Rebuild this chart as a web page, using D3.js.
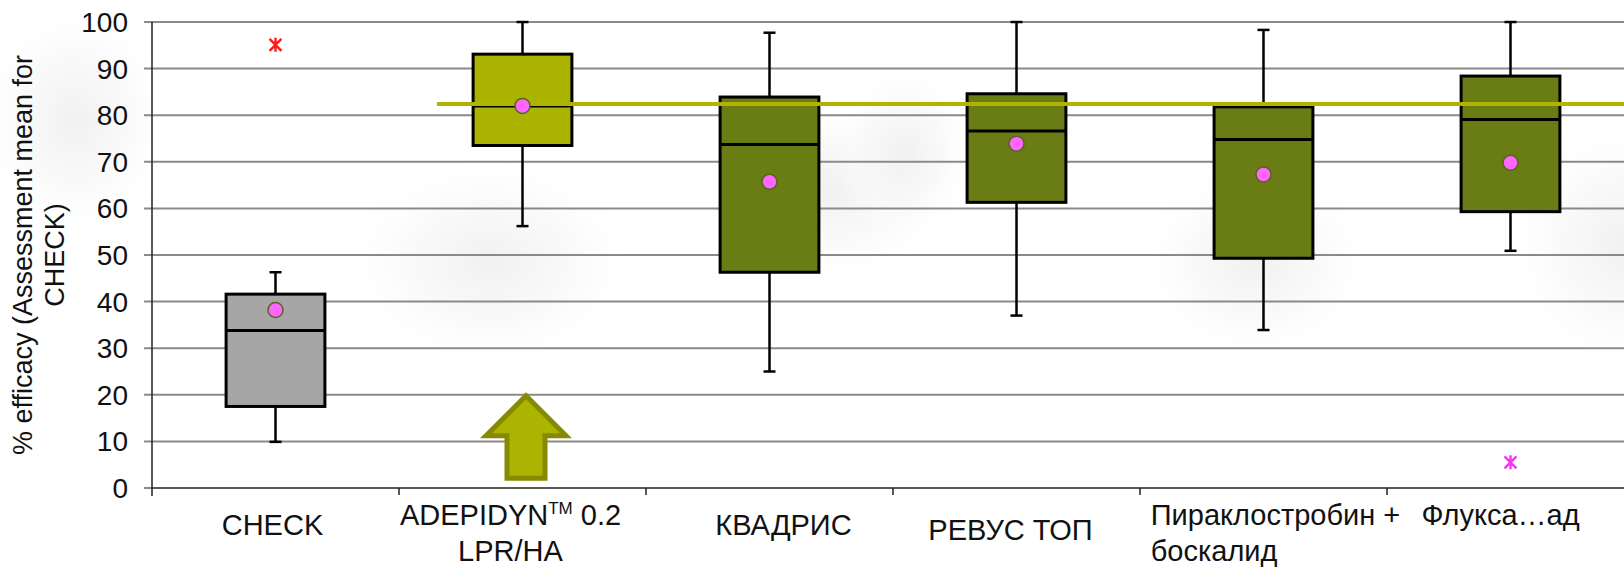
<!DOCTYPE html>
<html lang="ru">
<head>
<meta charset="UTF-8">
<title>Efficacy box plot</title>
<script src="https://d3js.org/d3.v7.min.js"></script>
<style>
    body { margin: 0; background: #fff; }
    svg { display: block; font-family: "Liberation Sans", Arial, sans-serif; }
    .grid line { stroke: #8a8a8a; stroke-width: 2px; }
    .tick-label { font-size: 28px; fill: #111; }
    .cat-label { font-size: 29px; fill: #111; }
    .y-title { font-size: 27px; fill: #111; }
</style>
</head>
<body>
<svg id="chart" width="1624" height="569"></svg>
<script>
    // values
    const categories = ["CHECK", "ADEPIDYN", "КВАДРИС", "РЕВУС ТОП", "Пираклостробин + боскалид", "Флукса…ад"];
    const whiskerLow  = [9.9, 56.2, 25.0, 37.0, 33.9, 50.9];
    const q1          = [17.5, 73.5, 46.3, 61.3, 49.3, 59.3];
    const medians     = [33.8, 82.0, 73.7, 76.6, 74.8, 79.1];
    const q3          = [41.6, 93.1, 83.9, 84.6, 81.8, 88.4];
    const whiskerHigh = [46.3, 100, 97.7, 100, 98.3, 100];
    const means       = [38.2, 82.0, 65.7, 73.9, 67.3, 69.8];
    const outlierCats   = ["CHECK", "Флукса…ад"];
    const outlierValues = [95.1, 5.5];
    const referenceLevel = 82.4;
    const yTickValues = [0, 10, 20, 30, 40, 50, 60, 70, 80, 90, 100];
    const yTitleLines = ["% efficacy (Assessment mean for", "CHECK)"];

    const W = 1624, H = 569;
    const svg = d3.select("#chart");

    const y = d3.scaleLinear().domain([0, 100]).range([488, 22]);
    const x = d3.scaleBand().domain(categories).range([152, 152 + 247 * 6]).padding(0);
    const bw = x.bandwidth();
    const cx = c => x(c) + bw / 2;

    const boxFill = d3.scaleOrdinal()
        .domain(categories)
        .range(["#a6a6a6", "#aab400", "#6a7c14", "#6a7c14", "#6a7c14", "#6a7c14"]);
    const outlierColor = d3.scaleOrdinal().domain(outlierCats).range(["#ff1a1a", "#ff2bff"]);

    // faint soft blobs in the background
    const defs = svg.append("defs");
    const grad = defs.append("radialGradient").attr("id", "blob");
    grad.append("stop").attr("offset", "0%").attr("stop-color", "#efefef").attr("stop-opacity", 0.9);
    grad.append("stop").attr("offset", "55%").attr("stop-color", "#f6f6f6").attr("stop-opacity", 0.6);
    grad.append("stop").attr("offset", "100%").attr("stop-color", "#ffffff").attr("stop-opacity", 0);
    const blobs = [[75, 120, 100, 120], [490, 262, 150, 110], [830, 190, 130, 95], [1255, 262, 120, 100], [1624, 245, 120, 130], [905, 150, 70, 90]];
    svg.append("g").selectAll("ellipse").data(blobs).enter().append("ellipse")
        .attr("cx", d => d[0]).attr("cy", d => d[1])
        .attr("rx", d => d[2]).attr("ry", d => d[3])
        .attr("fill", "url(#blob)");

    // gridlines (also the little left ticks)
    svg.append("g").attr("class", "grid")
        .selectAll("line")
        .data(yTickValues.filter(v => v > 0))
        .enter().append("line")
        .attr("x1", 144).attr("x2", W)
        .attr("y1", d => y(d)).attr("y2", d => y(d));

    svg.append("line").attr("x1", 144).attr("x2", 152)
        .attr("y1", y(0)).attr("y2", y(0)).attr("stroke", "#8a8a8a").attr("stroke-width", 2);

    // tick labels
    svg.append("g").selectAll("text")
        .data(yTickValues)
        .enter().append("text")
        .attr("class", "tick-label")
        .attr("x", 128).attr("y", d => y(d))
        .attr("dy", "0.36em")
        .attr("text-anchor", "end")
        .text(d => d);

    // axes
    svg.append("line").attr("x1", 152).attr("x2", 152).attr("y1", y(100)).attr("y2", 496)
        .attr("stroke", "#222").attr("stroke-width", 1.5);
    svg.append("line").attr("x1", 152).attr("x2", W).attr("y1", y(0)).attr("y2", y(0))
        .attr("stroke", "#222").attr("stroke-width", 1.5);
    svg.append("g").selectAll("line")
        .data(categories.slice(1))
        .enter().append("line")
        .attr("x1", d => x(d)).attr("x2", d => x(d))
        .attr("y1", y(0)).attr("y2", 495)
        .attr("stroke", "#222").attr("stroke-width", 1.5);

    // y title
    const yt = svg.append("text").attr("class", "y-title")
        .attr("transform", "translate(23,255) rotate(-90)")
        .attr("text-anchor", "middle");
    yt.selectAll("tspan").data(yTitleLines).enter().append("tspan")
        .attr("x", 0).attr("dy", (d, i) => i === 0 ? "0.35em" : "1.15em")
        .text(d => d);

    // boxes
    const boxW = bw * 0.4, capW = 12;
    const g = svg.append("g").selectAll("g")
        .data(categories)
        .enter().append("g");

    g.append("line")
        .attr("x1", d => cx(d)).attr("x2", d => cx(d))
        .attr("y1", (d, i) => y(whiskerHigh[i])).attr("y2", (d, i) => y(whiskerLow[i]))
        .attr("stroke", "#000").attr("stroke-width", 2.5);
    g.append("line")
        .attr("x1", d => cx(d) - capW / 2).attr("x2", d => cx(d) + capW / 2)
        .attr("y1", (d, i) => y(whiskerHigh[i])).attr("y2", (d, i) => y(whiskerHigh[i]))
        .attr("stroke", "#000").attr("stroke-width", 2.5);
    g.append("line")
        .attr("x1", d => cx(d) - capW / 2).attr("x2", d => cx(d) + capW / 2)
        .attr("y1", (d, i) => y(whiskerLow[i])).attr("y2", (d, i) => y(whiskerLow[i]))
        .attr("stroke", "#000").attr("stroke-width", 2.5);
    g.append("rect")
        .attr("x", d => cx(d) - boxW / 2).attr("width", boxW)
        .attr("y", (d, i) => y(q3[i]))
        .attr("height", (d, i) => y(q1[i]) - y(q3[i]))
        .attr("fill", d => boxFill(d))
        .attr("stroke", "#000").attr("stroke-width", 3);
    g.append("line")
        .attr("x1", d => cx(d) - boxW / 2).attr("x2", d => cx(d) + boxW / 2)
        .attr("y1", (d, i) => y(medians[i])).attr("y2", (d, i) => y(medians[i]))
        .attr("stroke", "#000").attr("stroke-width", 3);

    // reference line at ADEPIDYN level
    svg.append("line")
        .attr("x1", x(categories[1]) + 38).attr("x2", W)
        .attr("y1", y(referenceLevel)).attr("y2", y(referenceLevel))
        .attr("stroke", "#b0b400").attr("stroke-width", 4);

    // means
    svg.append("g").selectAll("circle")
        .data(categories)
        .enter().append("circle")
        .attr("cx", d => cx(d)).attr("cy", (d, i) => y(means[i]))
        .attr("r", 7.5)
        .attr("fill", "#ff66ff").attr("stroke", "#55661a").attr("stroke-width", 1.5);

    // outliers, drawn as a "ж"-like star
    const starType = {
        draw(ctx, size) {
            const r = Math.sqrt(size) / 2;
            ctx.moveTo(0, -r); ctx.lineTo(0, r);
            ctx.moveTo(-r * 0.85, -r * 0.85); ctx.lineTo(r * 0.85, r * 0.85);
            ctx.moveTo(-r * 0.85, r * 0.85); ctx.lineTo(r * 0.85, -r * 0.85);
        }
    };
    const star = d3.symbol().type(starType).size(196);
    svg.append("g").selectAll("path")
        .data(outlierCats)
        .enter().append("path")
        .attr("d", star)
        .attr("transform", (d, i) => `translate(${cx(d)},${y(outlierValues[i])})`)
        .attr("fill", "none")
        .attr("stroke", d => outlierColor(d)).attr("stroke-width", 2.4);

    // arrow pointing up at ADEPIDYN
    const ax = cx(categories[1]) + 3.5;
    const arrowPts = [
        [ax, y(19.8)], [ax + 40, y(11.2)], [ax + 19, y(11.2)], [ax + 19, y(2.1)],
        [ax - 19, y(2.1)], [ax - 19, y(11.2)], [ax - 40, y(11.2)]
    ];
    svg.append("path")
        .attr("d", d3.line()(arrowPts) + "Z")
        .attr("fill", "#abb400").attr("stroke", "#858a00").attr("stroke-width", 5)
        .attr("stroke-linejoin", "miter");

    // category labels
    const labelLines = [["CHECK"], ["ADEPIDYN|TM| 0.2", "LPR/HA"], ["КВАДРИС"], ["РЕВУС ТОП"], ["Пираклостробин +", "боскалид"], ["Флукса…ад"]];
    const labelDx = [-3, -12, 14, -6, 12, -10];
    const labelDy = [525, 515, 525, 530, 515, 515];
    const lg = svg.append("g");
    categories.forEach((c, i) => {
        const lines = labelLines[i];
        const left = i === 4;
        let firstNode = null;
        lines.forEach((ln, k) => {
            const t = lg.append("text").attr("class", "cat-label")
                .attr("x", cx(c) + labelDx[i])
                .attr("y", labelDy[i] + k * 36)
                .attr("dy", "0.36em")
                .attr("text-anchor", "middle");
            const parts = ln.split("|");
            if (parts.length === 3) {
                t.append("tspan").text(parts[0]);
                t.append("tspan").attr("font-size", "17px").attr("dy", "-11").text(parts[1]);
                t.append("tspan").attr("dy", "11").text(parts[2]);
            } else {
                t.text(ln);
            }
            if (k === 0) firstNode = t.node();
            else if (left) {
                // second line starts where the first one starts
                const bb = firstNode.getBBox();
                t.attr("text-anchor", "start").attr("x", bb.x);
            }
        });
    });
</script>
</body>
</html>
